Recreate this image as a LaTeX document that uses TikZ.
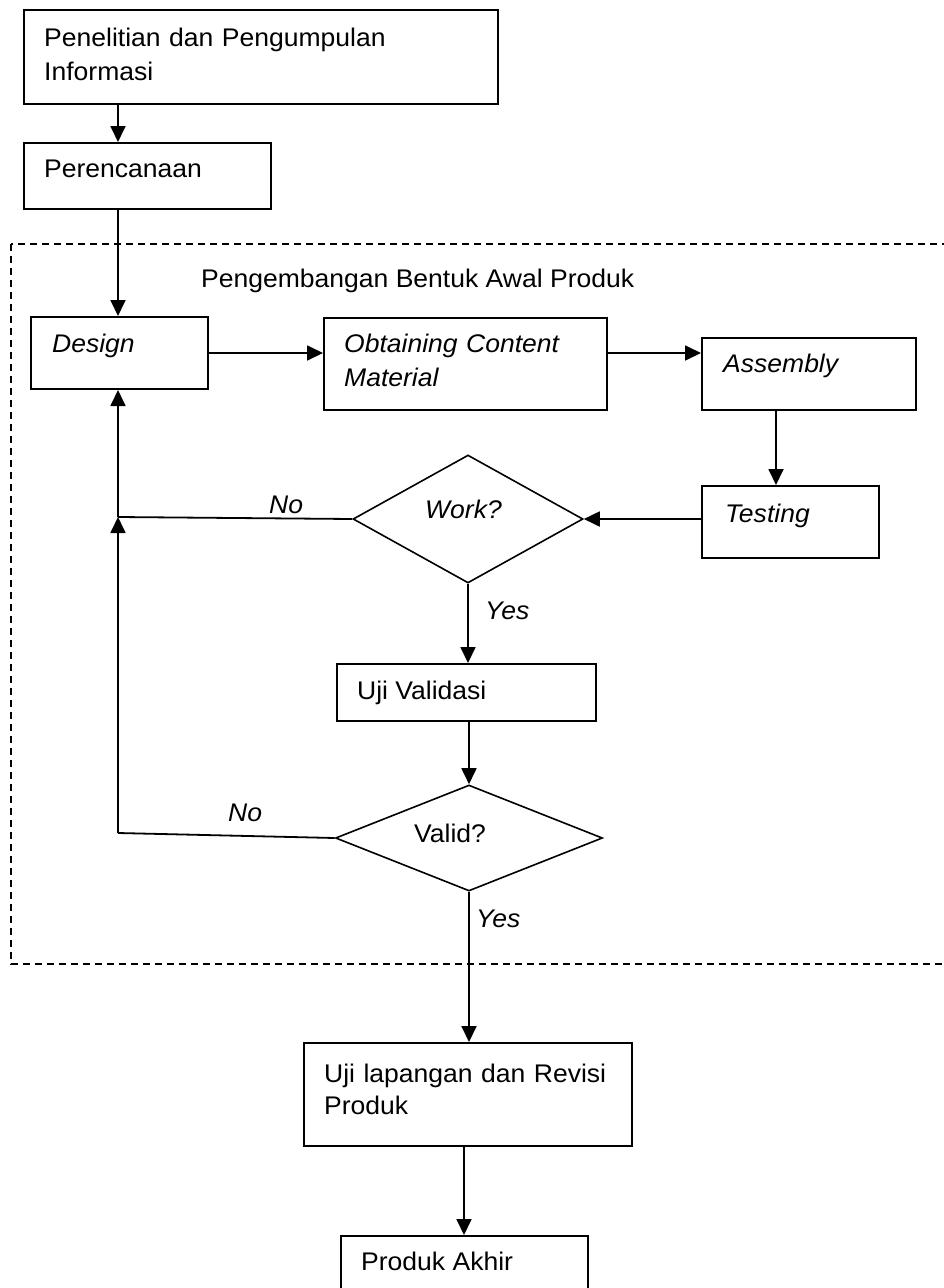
\documentclass[tikz,border=0pt]{standalone}
\usepackage{fontspec}
\setmainfont{Liberation Sans}[FakeStretch=1.04]
\usetikzlibrary{arrows.meta,shapes.geometric}
\begin{document}
\begin{tikzpicture}[x=1pt,y=-1pt,
  box/.style={draw, line width=2pt, rectangle, inner sep=0pt, anchor=north west},
  dec/.style={draw, line width=1.6pt, diamond, inner sep=0pt},
  txt/.style={anchor=base west, inner sep=0pt, align=left,
    font=\fontsize{25.5}{34}\selectfont},
  itxt/.style={txt, font=\fontsize{25.5}{34}\selectfont\itshape},
  conn/.style={line width=1.8pt},
  arr/.style={conn, -{Triangle[length=16pt,width=15pt]}},
  group/.style={line width=1.5pt, dash pattern=on 7pt off 5pt},
]
\useasboundingbox (0,0) rectangle (944,1288);

% dashed frame around the development stage
\draw[group] (11,244) rectangle (960,964);
\node[txt] (grp-t) at (201,287) {Pengembangan Bentuk Awal Produk};

% process boxes
\node[box, minimum width=474pt, minimum height=94pt] (b1) at (23,9) {};
\node[box, minimum width=247pt, minimum height=66pt] (b2) at (23,142) {};
\node[box, minimum width=177pt, minimum height=72pt] (design) at (30,316) {};
\node[box, minimum width=283pt, minimum height=92pt] (obtain) at (323,317) {};
\node[box, minimum width=214pt, minimum height=72pt] (assembly) at (701,337) {};
\node[box, minimum width=177pt, minimum height=72pt] (testing) at (701,485) {};
\node[box, minimum width=259pt, minimum height=57pt] (validasi) at (336,663) {};
\node[box, minimum width=328pt, minimum height=103pt] (lapangan) at (303,1042) {};
\node[box, minimum width=247pt, minimum height=80pt] (akhir) at (340,1235) {};

% decisions
\node[dec, minimum width=230pt, minimum height=128pt] (work) at (468,519) {};
\node[dec, minimum width=267pt, minimum height=106pt] (valid) at (469,838) {};

% box texts
\node[txt, text width=440pt] (b1-t) at (44,46) {Penelitian dan Pengumpulan\\Informasi};
\node[txt] (b2-t) at (44,177) {Perencanaan};
\node[itxt] (design-t) at (52,352) {Design};
\node[itxt, text width=270pt] (obtain-t) at (344,352) {Obtaining Content\\Material};
\node[itxt] (assembly-t) at (723,372) {Assembly};
\node[itxt] (testing-t) at (725,522) {Testing};
\node[itxt] (work-t) at (425,518) {Work?};
\node[txt] (validasi-t) at (357,699) {Uji Validasi};
\node[txt] (valid-t) at (414,842) {Valid?};
\node[txt, text width=310pt, font=\fontsize{25.5}{32}\selectfont] (lapangan-t) at (324,1082) {Uji lapangan dan Revisi\\Produk};
\node[txt] (akhir-t) at (361,1270) {Produk Akhir};

% branch labels
\node[itxt] (no1) at (269,513) {No};
\node[itxt] (yes1) at (485,619) {Yes};
\node[itxt] (no2) at (228,821) {No};
\node[itxt] (yes2) at (476,927) {Yes};

% helper columns and junctions
\coordinate (colL) at (118,0);
\coordinate (colT) at (776,0);
\coordinate (colB) at (464,0);
\coordinate (rowA) at (0,353);
\coordinate (jn) at (118,517);
\coordinate (jv) at (118,833);

% connectors
\draw[arr] (colL |- b1.south) -- (colL |- b2.north);
\draw[arr] (colL |- b2.south) -- (colL |- design.north);
\draw[arr] (design.east) -- (obtain.west |- design.east);
\draw[arr] (obtain.east |- rowA) -- (assembly.west |- rowA);
\draw[arr] (colT |- assembly.south) -- (colT |- testing.north);
\draw[arr] (testing.west |- work.east) -- (work.east);
\draw[conn] (work.west) -- (jn);
\draw[arr] (jn) -- (colL |- design.south);
\draw[arr] (work.south) -- (work.south |- validasi.north);
\draw[arr] (valid.north |- validasi.south) -- (valid.north);
\draw[conn] (valid.west) -- (jv);
\draw[arr] (jv) -- (jn);
\draw[arr] (valid.south) -- (valid.south |- lapangan.north);
\draw[arr] (colB |- lapangan.south) -- (colB |- akhir.north);
\end{tikzpicture}
\end{document}
